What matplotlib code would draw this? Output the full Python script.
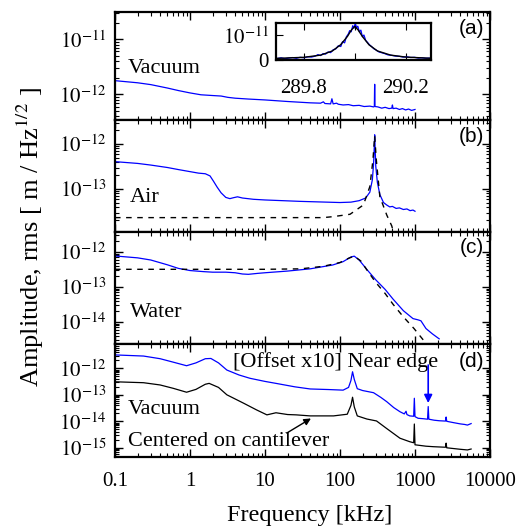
import math
import matplotlib
matplotlib.use('Agg')
import matplotlib.pyplot as plt
from matplotlib.ticker import FixedLocator, LogLocator, NullFormatter, FuncFormatter

plt.rcParams['font.family'] = ['Liberation Serif', 'DejaVu Serif']
plt.rcParams['mathtext.fontset'] = 'stix'

# ---- data (frequency in kHz, amplitude in m/Hz^1/2) ----
# (a) vacuum
a_freq = [0.1, 0.2, 0.3, 0.5, 0.7, 1.0, 1.4, 2.0, 2.6, 3.2, 4.0, 6.0, 10, 20, 40,
          55, 60, 63, 75, 78, 81, 90, 95, 110, 130, 150, 180, 210, 250, 280, 287,
          289, 290, 291, 293, 320, 360, 400, 450, 490, 500, 510, 560, 620, 680,
          750, 820, 900, 1000]
a_amp = [1.77e-12, 1.62e-12, 1.50e-12, 1.30e-12, 1.17e-12, 1.06e-12, 9.8e-13,
         9.5e-13, 9.3e-13, 8.8e-13, 8.5e-13, 8.2e-13, 7.9e-13, 7.4e-13, 7.0e-13,
         6.9e-13, 7.3e-13, 6.8e-13, 6.7e-13, 8.3e-13, 6.7e-13, 6.9e-13, 6.6e-13,
         6.4e-13, 6.5e-13, 6.2e-13, 6.3e-13, 6.0e-13, 6.1e-13, 5.9e-13, 6.0e-13,
         1.2e-12, 1.52e-12, 1.1e-12, 6.0e-13, 5.9e-13, 5.6e-13, 5.8e-13, 5.5e-13,
         5.6e-13, 6.4e-13, 5.5e-13, 5.6e-13, 5.3e-13, 5.5e-13, 5.2e-13, 5.4e-13,
         5.1e-13, 5.3e-13]

# (a) inset, linear scale around the 290 kHz resonance (amplitude in 1e-11)
ins_freq = [289.695, 289.71, 289.725, 289.74, 289.755, 289.77, 289.785, 289.80,
            289.815, 289.83, 289.845, 289.855, 289.865, 289.875, 289.885, 289.895,
            289.905, 289.915, 289.925, 289.935, 289.945, 289.952, 289.96, 289.967,
            289.974, 289.98, 289.986, 289.992, 289.997, 290.002, 290.007, 290.012,
            290.018, 290.024, 290.03, 290.036, 290.043, 290.05, 290.058, 290.066,
            290.075, 290.085, 290.095, 290.105, 290.118, 290.13, 290.145, 290.16,
            290.175, 290.19, 290.205, 290.22, 290.235, 290.25, 290.265, 290.28, 290.298]
ins_amp = [0.06, 0.09, 0.05, 0.08, 0.10, 0.07, 0.11, 0.09, 0.13, 0.12, 0.16, 0.22,
           0.18, 0.26, 0.24, 0.33, 0.30, 0.42, 0.45, 0.58, 0.55, 0.75, 0.70, 0.95,
           1.05, 1.20, 1.15, 1.40, 1.30, 1.50, 1.32, 1.38, 1.15, 1.22, 0.95, 1.02,
           0.80, 0.72, 0.62, 0.55, 0.46, 0.40, 0.33, 0.30, 0.26, 0.21, 0.19, 0.16,
           0.15, 0.12, 0.13, 0.10, 0.11, 0.08, 0.09, 0.07, 0.08]
ins_fit_freq = [289.695, 289.80, 289.866, 289.912, 289.944, 289.971, 289.987,
                290.000, 290.013, 290.030, 290.056, 290.089, 290.141, 290.200, 290.299]
ins_fit_amp = [0.068, 0.11, 0.20, 0.37, 0.62, 0.96, 1.23, 1.37, 1.23, 0.96, 0.62,
               0.37, 0.20, 0.12, 0.07]

# (b) air
b_freq = [0.1, 0.2, 0.3, 0.5, 0.7, 1.0, 1.3, 1.6, 1.85, 2.05, 2.3, 2.6, 3.0, 3.4,
          3.8, 4.3, 5.0, 7, 10, 30, 100, 140, 180, 220, 250, 270, 280, 286, 290,
          294, 300, 315, 340, 380, 420, 460, 500, 560, 620, 700, 780, 860, 940, 1000]
b_amp = [4.05e-13, 3.7e-13, 3.4e-13, 3.0e-13, 2.7e-13, 2.43e-13, 2.25e-13,
         2.18e-13, 1.95e-13, 1.5e-13, 1.1e-13, 8.2e-14, 6.5e-14, 6.1e-14, 6.4e-14,
         6.7e-14, 6.3e-14, 5.9e-14, 5.7e-14, 5.3e-14, 5.0e-14, 5.1e-14, 5.5e-14,
         6.3e-14, 8.5e-14, 1.6e-13, 3.5e-13, 8e-13, 1.6e-12, 8e-13, 3.2e-13,
         1.4e-13, 7.5e-14, 5.0e-14, 4.4e-14, 4.0e-14, 4.1e-14, 3.7e-14, 3.8e-14,
         3.5e-14, 3.6e-14, 3.3e-14, 3.4e-14, 3.2e-14]
b_fit_freq = [0.1, 60, 81, 136, 205, 250, 275, 290, 305, 340, 420, 490, 520]
b_fit_amp = [2.31e-14, 2.31e-14, 2.43e-14, 2.74e-14, 4.41e-14, 1.13e-13, 4.41e-13,
             1.51e-12, 4.41e-13, 6.76e-14, 2.64e-14, 1.51e-14, 1.04e-14]

# (c) water
c_freq = [0.1, 0.2, 0.3, 0.5, 0.7, 1.0, 1.5, 2.0, 3.0, 4.0, 5.0, 6.0, 8.0, 10, 20,
          40, 80, 110, 140, 155, 180, 230, 300, 400, 510, 700, 940, 1100, 1200,
          1400, 1700, 2100]
c_amp = [7.7e-13, 6.8e-13, 5.9e-13, 4.3e-13, 3.4e-13, 2.95e-13, 2.75e-13, 2.65e-13,
         2.65e-13, 2.55e-13, 2.35e-13, 2.3e-13, 2.45e-13, 2.55e-13, 2.85e-13, 3.3e-13,
         4.25e-13, 5.3e-13, 7.2e-13, 7.6e-13, 5.9e-13, 3.1e-13, 1.6e-13, 8.5e-14,
         4.5e-14, 2.1e-14, 1.25e-14, 1.15e-14, 1.08e-14, 6.5e-15, 4.6e-15, 3.3e-15]
c_fit_freq = [0.1, 10, 30, 60, 100, 130, 155, 190, 230, 300, 400, 510, 700, 970,
              1300, 1500]
c_fit_amp = [3.2e-13, 3.2e-13, 3.3e-13, 3.9e-13, 5.0e-13, 6.6e-13, 7.6e-13, 5.5e-13,
             3.0e-13, 1.35e-13, 6.5e-14, 3.2e-14, 1.4e-14, 6.5e-15, 3.0e-15, 2.2e-15]

# (d) vacuum, near edge (offset x10) and centered on cantilever
d_edge_freq = [0.1, 0.24, 0.4, 0.6, 0.9, 1.2, 1.6, 1.9, 2.4, 3.1, 4.5, 6.3, 10, 14,
               25, 40, 70, 110, 130, 140, 147, 155, 170, 200, 280, 350, 420, 520,
               630, 720, 760, 780, 850, 960, 980, 1000, 1100, 1300, 1470, 1500,
               1530, 1800, 2100, 2550, 2600, 2650, 3200, 4000, 4600, 5000, 5600]
d_edge_amp = [3.2e-12, 2.9e-12, 2.3e-12, 1.7e-12, 1.25e-12, 1.6e-12, 2.3e-12,
              2.35e-12, 1.6e-12, 8.6e-13, 5.6e-13, 4.2e-13, 3.2e-13, 2.7e-13, 2.0e-13,
              1.66e-13, 1.58e-13, 1.5e-13, 1.9e-13, 3.5e-13, 7.4e-13, 3.8e-13, 1.7e-13,
              1.45e-13, 1.2e-13, 8e-14, 5.5e-14, 3.3e-14, 2.3e-14, 1.9e-14, 2.4e-14,
              1.8e-14, 1.6e-14, 1.55e-14, 7.4e-14, 1.5e-14, 1.3e-14, 1.25e-14, 1.2e-14,
              3.6e-14, 1.2e-14, 1.1e-14, 1.05e-14, 1.02e-14, 1.45e-14, 1.0e-14, 9e-15,
              8e-15, 7.6e-15, 7.2e-15, 8.2e-15]
d_center_freq = [0.1, 0.24, 0.4, 0.6, 0.9, 1.2, 1.6, 1.8, 2.4, 3.1, 5.2, 7.7, 10.6,
                 14, 20, 26, 40, 82, 125, 140, 147, 155, 170, 228, 307, 417, 630,
                 850, 960, 980, 1000, 1400, 1770, 2550, 2600, 2650, 4000, 5000, 5600]
d_center_amp = [3.1e-13, 2.86e-13, 2.35e-13, 1.75e-13, 1.25e-13, 1.6e-13, 2.5e-13,
                2.7e-13, 1.9e-13, 1.0e-13, 4.8e-14, 2.7e-14, 1.75e-14, 2.1e-14, 1.8e-14,
                1.75e-14, 1.6e-14, 1.6e-14, 1.85e-14, 4.0e-14, 8.1e-14, 3.5e-14, 1.6e-14,
                1.22e-14, 1.03e-14, 5.4e-15, 2.3e-15, 1.7e-15, 1.55e-15, 7.9e-15, 1.3e-15,
                1.15e-15, 1.1e-15, 1.05e-15, 1.5e-15, 1.0e-15, 8.8e-16, 8.3e-16, 9.0e-16]

x_ticks = [0.1, 1, 10, 100, 1000, 10000]
x_tick_labels = ['0.1', '1', '10', '100', '1000', '10000']

# labelled decades on each panel
a_yticks = [1e-12, 1e-11]
b_yticks = [1e-13, 1e-12]
c_yticks = [1e-14, 1e-13, 1e-12]
d_yticks = [1e-15, 1e-14, 1e-13, 1e-12]

# ---- figure layout (pixel positions of the reference) ----
W, H = 522, 527
fig = plt.figure(figsize=(W / 100, H / 100), dpi=100)

def px_axes(x0, y0, x1, y1):
    return fig.add_axes([x0 / W, 1 - y1 / H, (x1 - x0) / W, (y1 - y0) / H])

ax_a = px_axes(115, 12, 490, 120)
ax_b = px_axes(115, 120, 490, 232)
ax_c = px_axes(115, 232, 490, 344)
ax_d = px_axes(115, 344, 490, 457)

panels = [
    (ax_a, (10 ** -12.467, 10 ** -10.504), a_yticks),
    (ax_b, (10 ** -13.956, 10 ** -11.467), b_yticks),
    (ax_c, (10 ** -14.629, 10 ** -11.429), c_yticks),
    (ax_d, (10 ** -15.347, 10 ** -11.083), d_yticks),
]

def exp_label(v, pos):
    return r'$10^{%d}$' % round(math.log10(v))

for ax, ylim, yticks in panels:
    ax.set_xscale('log')
    ax.set_yscale('log')
    ax.set_xlim(0.1, 10000)
    ax.set_ylim(*ylim)
    ax.xaxis.set_major_locator(FixedLocator(x_ticks))
    ax.xaxis.set_minor_locator(LogLocator(base=10, subs=range(2, 10), numticks=20))
    ax.yaxis.set_major_locator(FixedLocator(yticks))
    ax.yaxis.set_minor_locator(LogLocator(base=10, subs=range(2, 10), numticks=40))
    ax.yaxis.set_major_formatter(FuncFormatter(exp_label))
    ax.yaxis.set_minor_formatter(NullFormatter())
    ax.xaxis.set_minor_formatter(NullFormatter())
    ax.tick_params(which='both', direction='in', top=True, right=True)
    ax.tick_params(which='major', length=6, width=1)
    ax.tick_params(which='minor', length=3, width=0.8)
    ax.tick_params(axis='y', labelsize=15, pad=6)
    for s in ax.spines.values():
        s.set_linewidth(1.6)
    if ax is not ax_d:
        ax.set_xticklabels([])

ax_d.set_xticklabels(x_tick_labels)
ax_d.tick_params(axis='x', labelsize=15, pad=11)

label_font = ['Liberation Sans', 'DejaVu Sans']

# (a)
ax_a.plot(a_freq, a_amp, color='blue', lw=0.9)
ax_a.text(0.035, 0.48, 'Vacuum', transform=ax_a.transAxes, fontsize=16, va='center')
ax_a.text(0.985, 0.85, '(a)', transform=ax_a.transAxes, fontsize=15, ha='right',
          va='center', family=label_font)

# (b)
ax_b.plot(b_freq, b_amp, color='blue', lw=0.9)
ax_b.plot(b_fit_freq, b_fit_amp, color='black', lw=1, dashes=(4, 4))
ax_b.text(0.04, 0.31, 'Air', transform=ax_b.transAxes, fontsize=16, va='center')
ax_b.text(0.985, 0.85, '(b)', transform=ax_b.transAxes, fontsize=15, ha='right',
          va='center', family=label_font)

# (c)
ax_c.plot(c_freq, c_amp, color='blue', lw=0.9)
ax_c.plot(c_fit_freq, c_fit_amp, color='black', lw=1, dashes=(4, 4))
ax_c.text(0.04, 0.28, 'Water', transform=ax_c.transAxes, fontsize=16, va='center')
ax_c.text(0.985, 0.865, '(c)', transform=ax_c.transAxes, fontsize=15, ha='right',
          va='center', family=label_font)

# (d)
ax_d.plot(d_edge_freq, d_edge_amp, color='blue', lw=0.9)
ax_d.plot(d_center_freq, d_center_amp, color='black', lw=0.9)
ax_d.text(0.587, 0.843, '[Offset x10] Near edge', transform=ax_d.transAxes,
          fontsize=16, ha='center', va='center')
ax_d.text(0.985, 0.843, '(d)', transform=ax_d.transAxes, fontsize=15, ha='right',
          va='center', family=label_font)
ax_d.text(0.035, 0.416, 'Vacuum', transform=ax_d.transAxes, fontsize=16, va='center')
ax_d.text(0.035, 0.133, 'Centered on cantilever', transform=ax_d.transAxes,
          fontsize=16, va='center')
ax_d.annotate('', xy=(1500, 4.9e-14), xytext=(1500, 1.33e-12),
              arrowprops=dict(arrowstyle='-|>', color='blue', lw=1.2,
                              mutation_scale=12, shrinkA=0, shrinkB=0))
ax_d.annotate('', xy=(41, 1.28e-14), xytext=(19.5, 3.6e-15),
              arrowprops=dict(arrowstyle='-|>', color='black', lw=1.0,
                              mutation_scale=10, shrinkA=0, shrinkB=0))

# inset of (a)
ax_in = px_axes(276, 23, 431, 60)
ax_in.plot(ins_freq, [v * 1e-11 for v in ins_amp], color='blue', lw=0.9)
ax_in.plot(ins_fit_freq, [v * 1e-11 for v in ins_fit_amp], color='black', lw=1.0)
ax_in.set_xlim(289.69, 290.30)
ax_in.set_ylim(0, 1.51e-11)
ax_in.set_xticks([289.8, 290.0, 290.2])
ax_in.set_xticklabels(['289.8', '', '290.2'])
ax_in.set_yticks([0, 1e-11])
ax_in.set_yticklabels(['0', r'$10^{-11}$'])
ax_in.tick_params(which='both', direction='in', top=True, right=False, length=5)
ax_in.tick_params(axis='x', labelsize=15, pad=14)
ax_in.tick_params(axis='y', labelsize=15, pad=5)
for s in ax_in.spines.values():
    s.set_linewidth(1.6)

fig.text(30 / W, 1 - 237 / H, r'Amplitude, rms [ m / Hz$^{1/2}$ ]', rotation=90,
         ha='center', va='center', fontsize=19)
fig.text(310 / W, 1 - 515 / H, 'Frequency [kHz]', ha='center', va='center',
         fontsize=17.5)

fig.savefig('out.png', dpi=100)
